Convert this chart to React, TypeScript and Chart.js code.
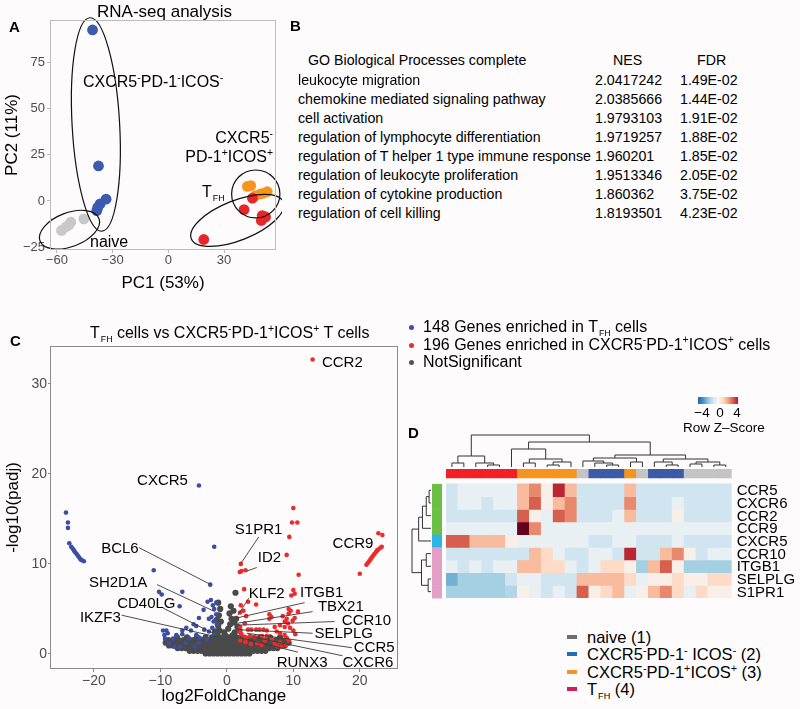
import React, { useEffect, useRef } from "react";
import { Chart, registerables } from "chart.js";
Chart.register(...registerables);

const FONT = '"Liberation Sans", Arial, Helvetica, sans-serif';

// ---------- Panel A: PCA ----------
const PCA_X_TICKS = [-60, -30, 0, 30];
const PCA_Y_TICKS = [-25, 0, 25, 50, 75];
const PCA_NAIVE = [[-57.5, -16], [-55, -14], [-53.5, -13], [-52.5, -11.5], [-45.5, -9.7]];
const PCA_DN = [[-40.8, 92.8], [-37.6, 19], [-33.5, 1], [-36.7, -1.6], [-38.5, -5.2], [-38, -3.5]];
const PCA_DP = [[42.6, 7.9], [44.4, 8.3], [47, 2.9], [49.7, 3.8], [53.3, 5], [51.5, 4.3]];
const PCA_TFH = [[19.1, -20.9], [40.8, -4.7], [45.3, 1.5], [50.6, -7.9], [52.4, -8.7], [50.1, -10.6]];
// cx, cy, rx, ry (data units), rotation (deg)
const PCA_ELLIPSES = [
  [-39, 41.5, 12.8, 58, -3.2],
  [-53.2, -15.6, 17, 9.2, -21],
  [37.2, -10.5, 26.7, 10.8, -21.7],
  [47.1, 3.8, 13, 13, 0],
];

// ---------- Panel B: GO table ----------
const GO_TERMS = [
  "leukocyte migration",
  "chemokine mediated signaling pathway",
  "cell activation",
  "regulation of lymphocyte differentiation",
  "regulation of T helper 1 type immune response",
  "regulation of leukocyte proliferation",
  "regulation of cytokine production",
  "regulation of cell killing",
];
const GO_NES = ["2.0417242", "2.0385666", "1.9793103", "1.9719257", "1.960201", "1.9513346", "1.860362", "1.8193501"];
const GO_FDR = ["1.49E-02", "1.44E-02", "1.91E-02", "1.88E-02", "1.85E-02", "2.05E-02", "3.75E-02", "4.23E-02"];

// ---------- Panel C: volcano ----------
const VOLC_X_TICKS = [-20, -10, 0, 10, 20];
const VOLC_Y_TICKS = [0, 10, 20, 30];
const VOLC_BLUE = [
  [-24.2, 15.7], [-23.9, 14.6], [-23.9, 14.0], [-23.7, 12.3], [-23.4, 11.9], [-23.2, 11.7], [-23.0, 11.5],
  [-22.8, 11.3], [-22.6, 11.1], [-22.4, 10.9], [-22.2, 10.7], [-22.0, 10.5], [-21.8, 10.4], [-21.5, 10.3],
  [-4.2, 18.7], [-1.9, 11.9], [-2.5, 7.7], [-11.0, 9.3], [-10.2, 6.9], [-9.8, 6.6], [-6.7, 6.9], [-7.1, 5.3],
  [-9.6, 2.6], [-9.1, 2.6], [-9.4, 2.1], [-8.9, 2.3], [-9.3, 1.7], [-8.7, 1.2], [-8.1, 1.7], [-7.6, 2.1],
  [-6.7, 2.6], [-7.9, 0.8], [-7.1, 0.8], [-6.2, 1.2], [-5.6, 1.7], [-5.4, 2.6], [-4.6, 3.1], [-4.6, 2.1],
  [-4.8, 0.8], [-4.2, 1.2], [-4.2, 4.0], [-3.5, 4.9], [-2.9, 5.8], [-2.4, 6.0], [-2.1, 5.4], [-1.6, 5.7],
  [-1.9, 5.0], [-2.7, 3.9], [-2.3, 4.1], [-1.6, 4.4], [-3.4, 2.7], [-2.7, 2.5], [-2.2, 2.9], [-1.9, 2.1],
  [-4.1, 1.8], [-6.1, 2.9], [-6.7, 2.2], [-5.0, 3.3], [-1.5, 3.3], [-2.0, 3.6], [-3.0, 1.6],
];
const VOLC_RED = [
  [12.9, 32.7], [10.0, 16.2], [9.8, 14.6], [10.6, 14.6], [9.4, 13.0], [9.0, 11.0], [10.8, 8.8],
  [2.1, 10.0], [1.95, 9.1], [2.2, 9.2], [2.8, 9.3], [2.6, 7.2], [4.4, 5.5], [3.2, 5.8], [2.1, 5.4],
  [2.5, 4.8], [2.0, 4.6], [2.9, 4.2], [10.0, 7.1], [10.2, 6.7], [9.7, 6.5],
  [20.0, 8.9], [21.0, 9.9], [21.2, 10.1], [21.4, 10.3], [21.6, 10.5], [21.8, 10.7], [22.0, 10.9], [22.2, 11.1],
  [22.4, 11.3], [22.6, 11.5], [22.8, 11.6], [23.1, 11.8], [23.3, 11.9], [22.8, 13.4], [23.4, 13.2],
  [9.3, 5.0], [9.6, 4.8], [9.3, 4.5], [6.4, 4.4], [6.7, 4.1], [6.4, 3.9], [10.7, 4.7], [10.2, 4.0],
  [8.7, 3.6], [8.0, 3.2], [8.7, 3.0], [9.5, 2.9], [10.0, 2.6], [9.2, 3.4], [7.2, 3.0], [7.5, 2.5],
  [8.0, 2.3], [8.7, 2.1], [9.0, 1.8], [9.3, 1.5], [8.0, 1.3], [7.2, 1.1], [7.5, 0.9], [8.2, 0.8],
  [8.9, 1.0], [2.7, 3.4], [3.2, 2.7], [3.7, 2.7], [4.4, 2.7], [4.9, 2.7], [5.5, 2.7], [6.0, 2.6],
  [2.7, 1.9], [2.9, 1.7], [3.5, 2.0], [4.2, 1.9], [5.3, 2.0], [6.0, 2.0], [2.8, 1.3], [3.6, 1.1],
  [4.6, 1.2], [5.2, 1.0], [2.0, 3.0], [2.2, 2.2], [2.0, 1.5], [1.9, 2.5], [6.8, 1.6], [5.7, 1.5],
  [10.3, 2.2], [9.9, 3.7], [9.0, 3.9], [8.4, 4.2],
];
// not-significant genes: rows of [y, xs]
const VOLC_GRAY_ROWS = [
  [0.05, [-3.2, -2.6, -2.0, -1.4, -0.8, -0.2, 0.4, 1.0, 1.6, 2.2, 2.8, 3.4]],
  [0.35, [-5.6, -5.0, -4.4, -3.8, -3.2, -2.6, -2.0, -1.4, -0.8, -0.2, 0.4, 1.0, 1.6, 2.2, 2.8, 3.4, 4.0, 4.6, 5.2, 5.8]],
  [0.65, [-7.4, -6.8, -6.2, -5.6, -5.0, -4.4, -3.8, -3.2, -2.6, -2.0, -1.4, -0.8, -0.2, 0.4, 1.0, 1.6, 2.2, 2.8, 3.4, 4.0, 4.6, 5.2, 5.8, 6.4, 7.0, 7.6]],
  [0.95, [-8.7, -8.1, -7.5, -6.9, -6.3, -5.7, -5.1, -4.5, -3.9, -3.3, -2.7, -2.1, -1.5, -0.9, -0.3, 0.3, 0.9, 1.5, 2.1, 2.7, 3.3, 3.9, 4.5, 5.1, 5.7, 6.3, 6.9, 7.5, 8.1, 8.7]],
  [1.25, [-9.2, -8.6, -8.0, -7.4, -6.8, -6.2, -5.6, -5.0, -4.4, -3.8, -3.2, -2.6, -2.0, -1.4, -0.8, -0.2, 0.4, 1.0, 1.6, 2.2, 2.8, 3.4, 4.0, 4.6, 5.2, 5.8, 6.4, 7.0, 7.6, 8.2, 8.8, 9.3]],
  [1.55, [-8.8, -8.0, -7.3, -6.5, -5.8, -5.0, -4.3, -3.5, -2.8, -2.1, -1.5, -0.9, -0.3, 0.3, 0.9, 1.5, 2.1, 2.8, 3.6, 4.4, 5.1, 5.9, 6.6, 7.4, 8.1, 8.9]],
  [1.85, [-7.5, -6.0, -4.5, -3.2, -2.2, -1.6, -1.0, -0.4, 0.3, 0.9, 1.5, 2.3, 3.5, 5.0, 6.5, 8.0]],
];
const VOLC_GRAY_SPIKE = [
  [-1.5, 2.2], [-1.1, 2.6], [-1.3, 3.1], [-0.9, 3.6], [-1.2, 4.3], [-1.0, 5.0], [-1.3, 5.7], [-0.4, 2.4],
  [0.2, 2.8], [0.5, 3.3], [0.7, 3.9], [0.4, 4.5], [0.6, 5.3], [1.3, 6.8], [1.0, 4.8], [1.4, 3.9], [1.6, 3.0],
  [1.2, 2.4], [0.9, 2.1], [-0.2, 2.0], [-1.8, 2.5], [-1.5, 3.8], [1.9, 2.6], [1.1, 3.5],
];
// text, x, y, [line x1, y1, x2, y2] in data units
const VOLC_LABELS = [
  ["CCR2", 14.3, 32.4],
  ["CXCR5", -13.5, 19.3],
  ["S1PR1", 1.2, 13.9, 4.8, 13.0, 2.06, 10.0],
  ["ID2", 4.66, 10.8, 4.5, 9.6, 3.0, 9.2],
  ["CCR9", 15.9, 12.3],
  ["BCL6", -18.9, 11.8, -13.2, 11.8, -2.4, 7.7],
  ["SH2D1A", -20.75, 8.0, -10.5, 7.7, -1.8, 4.7],
  ["CD40LG", -16.5, 5.7, -9.6, 5.1, -2.1, 2.3],
  ["IKZF3", -22.1, 4.1, -15.8, 4.3, -1.5, 1.9],
  ["KLF2", 3.3, 6.8, 3.3, 6.2, 1.65, 4.3],
  ["ITGB1", 11.0, 6.9, 11.7, 5.7, 1.5, 4.0],
  ["TBX21", 13.7, 5.3, 12.9, 4.7, 1.5, 3.4],
  ["CCR10", 17.3, 3.8, 16.2, 3.6, 1.65, 3.2],
  ["SELPLG", 13.2, 2.3, 12.9, 2.3, 1.65, 2.7],
  ["CCR5", 19.1, 0.8, 18.8, 0.7, 3.0, 2.3],
  ["CXCR6", 17.4, -0.9, 17.4, -0.2, 3.9, 1.9],
  ["RUNX3", 7.5, -0.9, 10.7, 0.2, 2.0, 1.8],
];

// ---------- Panel D: heatmap ----------
const HEAT_GENES = ["CCR5", "CXCR6", "CCR2", "CCR9", "CXCR5", "CCR10", "ITGB1", "SELPLG", "S1PR1"];
const HEAT_COLS = Array.from({ length: 24 }, (_, i) => "S" + (i + 1));
const HEAT_COL_GROUP = [4, 4, 4, 4, 4, 4, 3, 3, 3, 3, 3, 1, 2, 2, 2, 3, 1, 2, 2, 2, 1, 1, 1, 1];
const HEAT_ROW_GROUP = [0, 0, 0, 0, 1, 2, 2, 2, 2];
const HEAT_Z = [
  [-1, -0.4, -0.4, -0.4, -0.4, -0.4, 1.6, 2.4, 0.3, 3.8, 1.6, -1, -1, -1, -1, 1.6, -1, -1, -1, -1, -1, -1, -1, -1],
  [-1, -0.4, -0.4, -1, -0.4, -0.4, 1.6, 3.0, 0.3, 1.6, 2.4, -1, -1, -1, -1, 2.4, -1, -1, -1, -0.4, -1, -1, -1, -1],
  [-1, -1, -1, -1, -1, -1, 3.0, 0.3, -0.4, 3.0, 2.4, -1, -1, -1, -0.4, 1.6, -1, -1, -1, 0.3, -1, -1, -1, -1],
  [-0.4, -0.4, -0.4, -0.4, -0.4, -0.4, 5, 2.4, -0.4, -0.4, -0.4, -0.4, -0.4, -0.4, -0.4, -0.4, -0.4, -0.4, -0.4, -0.4, -0.4, -0.4, -0.4, -0.4],
  [3, 3, 1.6, 1.6, 1.6, 0.3, -0.4, -0.4, -0.4, -0.4, -0.4, -0.4, -1, -1, -0.4, -0.4, -1, -1, -1, -0.4, -1, -1, -1, -1],
  [-1, -1, -1, -1, -1, -1, -1, 1.6, 1.0, -0.4, -1, -1, -0.4, -0.4, -1, 3.8, -1, -1, 1.6, 2.4, 0.3, -1, -0.4, -0.4],
  [-0.4, -1, -0.4, -1, -0.4, -0.4, 1.6, 1.6, 1.0, 1.0, -0.4, -1, -0.4, 1.0, 1.0, 0.3, -1.7, 1.6, 3.0, 0.3, -1.7, -1.7, -1.7, -1.7],
  [-2.4, -1.7, -1.7, -1.7, -1.7, -1, -0.4, -0.4, -1, -1, -1, 1.6, 1.6, 1.6, 1.6, 1.0, -0.4, 0.3, 0.3, 1.0, 0.3, 0.3, 1.0, 1.0],
  [-1.7, -1.7, -1.7, -1.7, -1.7, -1.5, 0.3, -0.4, -1, -0.4, -1, 3.0, 0.3, 1.0, 1.6, -0.4, 0.3, 1.6, 2.4, 1.0, -0.4, 1.0, 0.3, 0.3],
];
// dendrograms: [left, right, height]
const HEAT_COL_TREE = [
  [[0, 1, 4], [2, [3, 4, 2], 4], 11],
  [[5, [[6, 7, 4], [[8, 9, 2], 10, 5], 8], 18],
    [[[11, [12, [13, 14, 2], 4], 6], [15, 16, 5], 9], [[17, [18, 19, 2], 5], [[20, 21, 3], [22, 23, 2], 5], 8], 12], 25],
  32,
];
const HEAT_ROW_TREE = [[[[[0, 1, 2], 2, 5], 3, 9], 4, 13], [[5, 6, 5], [7, 8, 3], 10], 20];
const Z_STOPS = [
  [-4, "#2166ac"], [-3, "#4393c3"], [-2, "#92c5de"], [-1, "#d1e5f0"], [0, "#f7f7f7"],
  [1, "#fddbc7"], [2, "#f4a582"], [3, "#d6604d"], [4, "#b2182b"], [5, "#67001f"],
];
const ANNOT_COLORS = { 1: "#c4c4c4", 2: "#3c5aa8", 3: "#f7941d", 4: "#ee2224" };
const ROW_ANNOT_COLORS = ["#6cbf45", "#2bb5e8", "#e39fc6"];
const LEGEND_D = [
  { color: "#6e6e6e" }, { color: "#1f6fb8" }, { color: "#f7941d" }, { color: "#d6185c" },
];

function hex2rgb(h) {
  return [parseInt(h.slice(1, 3), 16), parseInt(h.slice(3, 5), 16), parseInt(h.slice(5, 7), 16)];
}
function zColor(z) {
  if (z <= Z_STOPS[0][0]) return Z_STOPS[0][1];
  for (let i = 1; i < Z_STOPS.length; i++) {
    if (z <= Z_STOPS[i][0]) {
      const [z0, c0] = Z_STOPS[i - 1];
      const [z1, c1] = Z_STOPS[i];
      const t = (z - z0) / (z1 - z0);
      const a = hex2rgb(c0), b = hex2rgb(c1);
      return `rgb(${a.map((v, k) => Math.round(v + (b[k] - v) * t)).join(",")})`;
    }
  }
  return Z_STOPS[Z_STOPS.length - 1][1];
}

const fmtTick = (v) => (v < 0 ? "\u2212" + Math.abs(v) : String(v));

function axis(ticksArr, min, max, size, color, tickLength, pad, fitKey, fitVal, title, titlePad) {
  return {
    type: "linear",
    min, max,
    afterBuildTicks: (s) => { s.ticks = ticksArr.map((v) => ({ value: v })); },
    afterFit: (s) => { s[fitKey] = fitVal; },
    grid: { display: true, drawOnChartArea: false, drawTicks: true, tickLength, color, lineWidth: 1 },
    border: { display: false },
    ticks: { color: "#4d4d4d", font: { family: FONT, size }, padding: pad, callback: (v) => fmtTick(v), maxRotation: 0, autoSkip: false },
    title: { display: true, text: title, color: "#000", font: { family: FONT, size: 17 }, padding: titlePad },
  };
}

const frame = (id, color) => ({
  id,
  afterDraw(chart) {
    const { ctx, chartArea: a } = chart;
    ctx.save();
    ctx.strokeStyle = color;
    ctx.lineWidth = 1;
    ctx.strokeRect(Math.round(a.left) + 0.5, Math.round(a.top) + 0.5, Math.round(a.right - a.left) - 1, Math.round(a.bottom - a.top) - 1);
    ctx.restore();
  },
});

const toXY = (arr) => arr.map(([x, y]) => ({ x, y }));

function pcaConfig() {
  return {
    type: "scatter",
    data: {
      datasets: [
        { data: toXY(PCA_NAIVE), backgroundColor: "#c8c8c8" },
        { data: toXY(PCA_DN), backgroundColor: "#3a5bb0" },
        { data: toXY(PCA_TFH), backgroundColor: "#e8262a" },
        { data: toXY(PCA_DP), backgroundColor: "#f7941d" },
      ].map((d) => ({ ...d, pointRadius: 5.4, borderWidth: 0 })),
    },
    options: {
      responsive: false, animation: false, events: [],
      layout: { padding: { top: 20, right: 6, left: 0, bottom: 0 } },
      plugins: { legend: { display: false }, tooltip: { enabled: false } },
      scales: {
        x: axis(PCA_X_TICKS, -63.7, 58, 13, "#b8b8b8", 3, 0, "height", 50, "PC1 (53%)", { top: 0, bottom: 6 }),
        y: axis(PCA_Y_TICKS, -26.6, 98.2, 13, "#b8b8b8", 3, 2, "width", 50, "PC2 (11%)", { top: 2, bottom: 0 }),
      },
    },
    plugins: [
      frame("frameA", "#bdbdbd"),
      {
        id: "ellipses",
        afterDatasetsDraw(chart) {
          const { ctx } = chart;
          const xs = chart.scales.x, ys = chart.scales.y;
          ctx.save();
          ctx.strokeStyle = "#111";
          ctx.lineWidth = 1.2;
          PCA_ELLIPSES.forEach(([cx, cy, rx, ry, ang]) => {
            const px = xs.getPixelForValue(cx), py = ys.getPixelForValue(cy);
            const prx = Math.abs(xs.getPixelForValue(cx + rx) - px);
            const pry = Math.abs(ys.getPixelForValue(cy + ry) - py);
            ctx.beginPath();
            ctx.ellipse(px, py, prx, pry, (ang * Math.PI) / 180, 0, Math.PI * 2);
            ctx.stroke();
          });
          ctx.restore();
        },
      },
    ],
  };
}

function volcanoConfig() {
  const gray = [];
  VOLC_GRAY_ROWS.forEach(([y, xs]) => xs.forEach((x) => gray.push({ x, y })));
  VOLC_GRAY_SPIKE.forEach(([x, y]) => gray.push({ x, y }));
  return {
    type: "scatter",
    data: {
      datasets: [
        { data: toXY(VOLC_BLUE), backgroundColor: "#3b4ea3", pointRadius: 2.3 },
        { data: toXY(VOLC_RED), backgroundColor: "#ee2a2a", pointRadius: 2.3 },
        { data: gray, backgroundColor: "#4a4a4a", pointRadius: 3.1 },
      ].map((d) => ({ ...d, borderWidth: 0 })),
    },
    options: {
      responsive: false, animation: false, events: [],
      layout: { padding: { top: 28, right: 4.3, left: 0, bottom: 0 } },
      plugins: { legend: { display: false }, tooltip: { enabled: false } },
      scales: {
        x: axis(VOLC_X_TICKS, -26.6, 25.7, 14, "#888", 3, 1, "height", 40, "log2FoldChange", { top: 0, bottom: 2 }),
        y: axis(VOLC_Y_TICKS, -1.67, 34.2, 14, "#888", 2, 1, "width", 50, "-log10(padj)", { top: 3, bottom: 0 }),
      },
    },
    plugins: [
      frame("frameC", "#8a8a8a"),
      {
        id: "volcLabels",
        afterDatasetsDraw(chart) {
          const { ctx } = chart;
          const xs = chart.scales.x, ys = chart.scales.y;
          ctx.save();
          ctx.strokeStyle = "#3a3a3a";
          ctx.lineWidth = 0.9;
          VOLC_LABELS.forEach((l) => {
            if (l.length > 3) {
              ctx.beginPath();
              ctx.moveTo(xs.getPixelForValue(l[3]), ys.getPixelForValue(l[4]));
              ctx.lineTo(xs.getPixelForValue(l[5]), ys.getPixelForValue(l[6]));
              ctx.stroke();
            }
          });
          ctx.fillStyle = "#000";
          ctx.font = `15px ${FONT}`;
          ctx.textBaseline = "middle";
          ctx.textAlign = "left";
          VOLC_LABELS.forEach((l) => {
            ctx.fillText(l[0], xs.getPixelForValue(l[1]), ys.getPixelForValue(l[2]) + 1);
          });
          ctx.restore();
        },
      },
    ],
  };
}

const ANNOT_H = 0.71;
const GAP_H = 0.47;

function heatConfig() {
  const datasets = [
    { data: HEAT_COLS.map(() => ANNOT_H), backgroundColor: HEAT_COL_GROUP.map((g) => ANNOT_COLORS[g]) },
    { data: HEAT_COLS.map(() => GAP_H), backgroundColor: "rgba(0,0,0,0)" },
    ...HEAT_GENES.map((g, r) => ({ label: g, data: HEAT_COLS.map(() => 1), backgroundColor: HEAT_Z[r].map(zColor) })),
  ].map((d) => ({ ...d, borderWidth: 0, barPercentage: 1, categoryPercentage: 1 }));
  return {
    type: "bar",
    data: { labels: HEAT_COLS, datasets },
    options: {
      responsive: false, animation: false, events: [],
      layout: { padding: { top: 49, right: 68.3, left: 46, bottom: 12 } },
      plugins: { legend: { display: false }, tooltip: { enabled: false } },
      scales: {
        x: { stacked: true, display: false },
        y: { stacked: true, display: false, min: 0, max: ANNOT_H + GAP_H + HEAT_GENES.length, reverse: true },
      },
    },
    plugins: [
      {
        id: "heatDecor",
        afterDraw(chart) {
          const { ctx } = chart;
          const xs = chart.scales.x, ys = chart.scales.y;
          const colX = (i) => xs.getPixelForValue(i);
          const rowY = (r) => ys.getPixelForValue(ANNOT_H + GAP_H + r + 0.5);
          const rowTop = ys.getPixelForValue(ANNOT_H + GAP_H);
          const rowH = ys.getPixelForValue(ANNOT_H + GAP_H + 1) - rowTop;
          ctx.save();
          ctx.strokeStyle = "#333";
          ctx.lineWidth = 1;
          // column dendrogram
          const colBase = ys.getPixelForValue(0) - 2;
          const colScale = 1;
          const drawCol = (n) => {
            if (typeof n === "number") return { x: colX(n), h: 0 };
            const a = drawCol(n[0]), b = drawCol(n[1]);
            const yTop = colBase - n[2] * colScale;
            ctx.beginPath();
            ctx.moveTo(a.x, colBase - a.h * colScale);
            ctx.lineTo(a.x, yTop);
            ctx.lineTo(b.x, yTop);
            ctx.lineTo(b.x, colBase - b.h * colScale);
            ctx.stroke();
            return { x: (a.x + b.x) / 2, h: n[2] };
          };
          drawCol(HEAT_COL_TREE);
          // row annotation
          const annL = xs.left - 14, annW = 10;
          HEAT_ROW_GROUP.forEach((g, r) => {
            ctx.fillStyle = ROW_ANNOT_COLORS[g];
            ctx.fillRect(annL, rowTop + r * rowH, annW, rowH + 0.5);
          });
          // row dendrogram
          const rowBase = annL - 1;
          const rowScale = 0.95;
          const drawRow = (n) => {
            if (typeof n === "number") return { y: rowY(n), h: 0 };
            const a = drawRow(n[0]), b = drawRow(n[1]);
            const xL = rowBase - n[2] * rowScale;
            ctx.beginPath();
            ctx.moveTo(rowBase - a.h * rowScale, a.y);
            ctx.lineTo(xL, a.y);
            ctx.lineTo(xL, b.y);
            ctx.lineTo(rowBase - b.h * rowScale, b.y);
            ctx.stroke();
            return { y: (a.y + b.y) / 2, h: n[2] };
          };
          drawRow(HEAT_ROW_TREE);
          // gene labels
          ctx.fillStyle = "#000";
          ctx.font = `15px ${FONT}`;
          ctx.textBaseline = "middle";
          ctx.textAlign = "left";
          HEAT_GENES.forEach((g, r) => ctx.fillText(g, xs.right + 5, rowY(r) + 1));
          ctx.restore();
        },
      },
    ],
  };
}

function ChartBox({ left, top, width, height, build }) {
  const ref = useRef(null);
  useEffect(() => {
    const chart = new Chart(ref.current, build());
    return () => chart.destroy();
  }, []);
  return <canvas ref={ref} width={width} height={height} style={{ position: "absolute", left, top, width, height }} />;
}

function T({ x, y, size = 16, anchor = "left", bold = false, color = "#000", children }) {
  const tx = anchor === "left" ? "0" : anchor === "center" ? "-50%" : "-100%";
  return (
    <div style={{ position: "absolute", left: x, top: y, transform: `translate(${tx}, -50%)`, fontSize: size, lineHeight: 1, fontFamily: FONT, fontWeight: bold ? "bold" : "normal", color, whiteSpace: "nowrap" }}>
      {children}
    </div>
  );
}
const Sup = ({ children }) => <span style={{ fontSize: "0.65em", position: "relative", top: "-0.6em" }}>{children}</span>;
const Sub = ({ children }) => <span style={{ fontSize: "0.55em", position: "relative", top: "0.4em", marginLeft: 1 }}>{children}</span>;

export default function App() {
  const nesX = 595, fdrX = 680;
  return (
    <div style={{ position: "absolute", left: 0, top: 0, width: 800, height: 709, background: "#fdfbfc", overflow: "hidden", fontFamily: FONT }}>
      <ChartBox left={0} top={0} width={282} height={300} build={pcaConfig} />
      <ChartBox left={0} top={318} width={402} height={391} build={volcanoConfig} />
      <ChartBox left={400} top={420} width={400} height={190} build={heatConfig} />

      {/* Panel A text */}
      <T x={9} y={26} size={15} bold>A</T>
      <T x={97} y={11} size={17}>RNA-seq analysis</T>
      <T x={83} y={82} size={16}>CXCR5<Sup>-</Sup>PD-1<Sup>-</Sup>ICOS<Sup>-</Sup></T>
      <T x={273} y={138} size={16} anchor="right">CXCR5<Sup>-</Sup></T>
      <T x={273} y={157} size={16} anchor="right">PD-1<Sup>+</Sup>ICOS<Sup>+</Sup></T>
      <T x={202} y={192} size={16}>T<Sub>FH</Sub></T>
      <T x={90} y={242} size={16}>naive</T>

      {/* Panel B */}
      <T x={290} y={25} size={15} bold>B</T>
      <T x={308} y={60} size={14.2}>GO Biological Processes complete</T>
      <T x={613} y={60} size={14.2}>NES</T>
      <T x={697} y={60} size={14.2}>FDR</T>
      {GO_TERMS.map((t, i) => (
        <React.Fragment key={t}>
          <T x={298} y={80 + i * 19} size={14.2}>{t}</T>
          <T x={nesX} y={80 + i * 19} size={14.2}>{GO_NES[i]}</T>
          <T x={fdrX} y={80 + i * 19} size={14.2}>{GO_FDR[i]}</T>
        </React.Fragment>
      ))}

      {/* Panel C */}
      <T x={10} y={340} size={15} bold>C</T>
      <T x={90} y={333} size={16}>T<Sub>FH</Sub> cells vs CXCR5<Sup>-</Sup>PD-1<Sup>+</Sup>ICOS<Sup>+</Sup> T cells</T>
      {[
        ["#3b4ea3", <>148 Genes enriched in T<Sub>FH</Sub> cells</>],
        ["#ee2a2a", <>196 Genes enriched in CXCR5<Sup>-</Sup>PD-1<Sup>+</Sup>ICOS<Sup>+</Sup> cells</>],
        ["#555555", <>NotSignificant</>],
      ].map(([c, t], i) => (
        <React.Fragment key={i}>
          <div style={{ position: "absolute", left: 409, top: 325 + i * 17.5, width: 5, height: 5, borderRadius: 3, background: c as string }} />
          <T x={423} y={327 + i * 17.5} size={16}>{t}</T>
        </React.Fragment>
      ))}

      {/* Panel D */}
      <T x={408} y={432} size={15} bold>D</T>
      <div style={{ position: "absolute", left: 698, top: 397, width: 40, height: 7, background: `linear-gradient(to right, ${Z_STOPS.slice(0, 9).map((s) => s[1]).join(",")})` }} />
      <T x={702} y={413} size={13.5} anchor="center">{"\u22124"}</T>
      <T x={720} y={413} size={13.5} anchor="center">0</T>
      <T x={737} y={413} size={13.5} anchor="center">4</T>
      <T x={683} y={428} size={13.5}>Row Z{"\u2013"}Score</T>
      {[
        <>naive (1)</>,
        <>CXCR5<Sup>-</Sup>PD-1<Sup>-</Sup> ICOS<Sup>-</Sup> (2)</>,
        <>CXCR5<Sup>-</Sup>PD-1<Sup>+</Sup>ICOS<Sup>+</Sup> (3)</>,
        <>T<Sub>FH</Sub> (4)</>,
      ].map((t, i) => (
        <React.Fragment key={i}>
          <div style={{ position: "absolute", left: 567, top: [637, 654, 672, 689][i] - 2, width: 10, height: 4, background: LEGEND_D[i].color }} />
          <T x={587} y={[637, 654, 672, 689][i]} size={16.5}>{t}</T>
        </React.Fragment>
      ))}
    </div>
  );
}
